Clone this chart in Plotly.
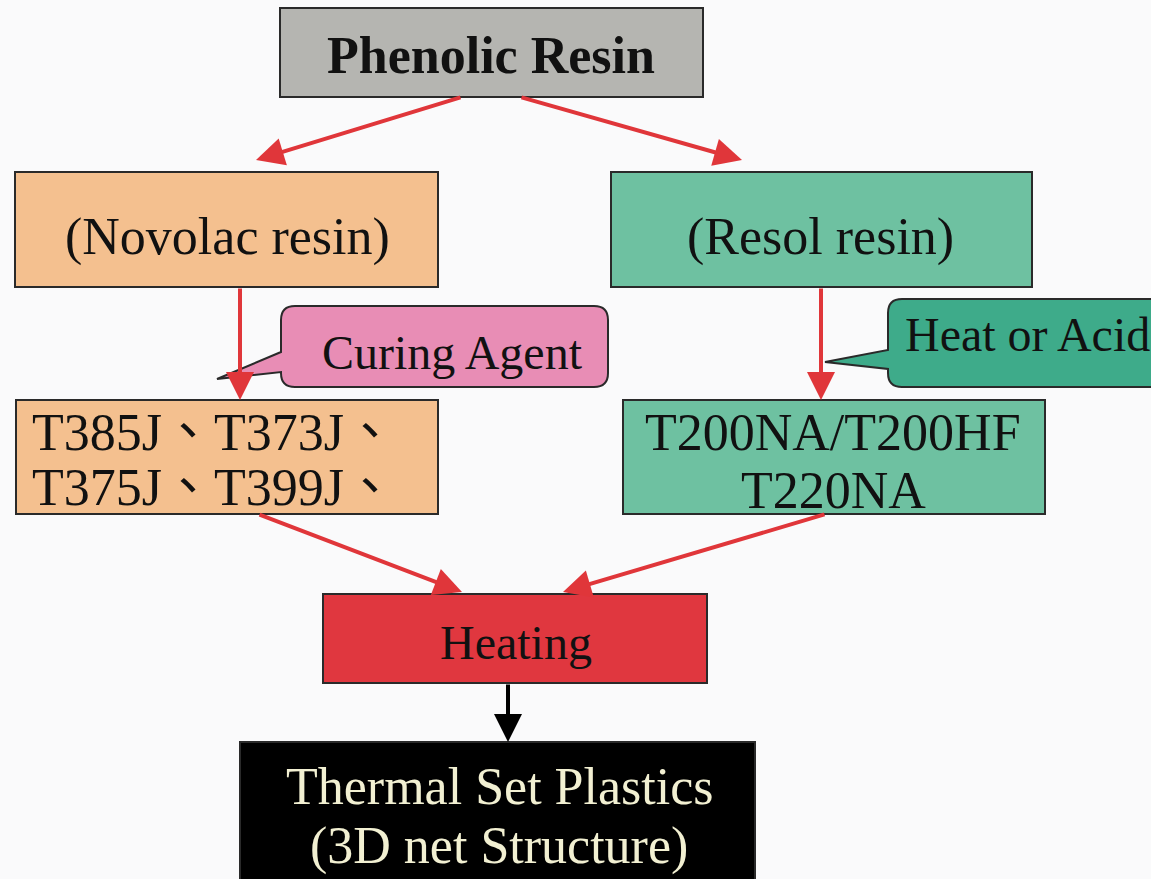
import plotly.graph_objects as go

W, H = 1151, 879

# ---- data: node labels ----
node_names = ["phenolic", "novolac", "resol", "novolac_grades", "resol_grades", "heating", "thermoset"]
node_labels = [
    ["<b>Phenolic Resin</b>"],
    ["(Novolac resin)"],
    ["(Resol resin)"],
    ["T385J、T373J、", "T375J、T399J、"],
    ["T200NA/T200HF", "T220NA"],
    ["Heating"],
    ["Thermal Set Plastics", "(3D net Structure)"],
]
callout_labels = ["Curing Agent", "Heat or Acid"]
edges = [
    ("phenolic", "novolac"),
    ("phenolic", "resol"),
    ("novolac", "novolac_grades"),
    ("resol", "resol_grades"),
    ("novolac_grades", "heating"),
    ("resol_grades", "heating"),
    ("heating", "thermoset"),
]

# ---- layout: positions / sizes / styles ----
boxes = {  # x0, x1, y0, y1 (pixel space, y downwards)
    "phenolic": (280, 703, 8, 97),
    "novolac": (15, 438, 172, 287),
    "resol": (611, 1032, 172, 287),
    "novolac_grades": (16, 438, 400, 514),
    "resol_grades": (623, 1045, 400, 514),
    "heating": (323, 707, 594, 683),
    "thermoset": (240, 755, 742, 885),
}
fills = {
    "phenolic": "#b5b5b1",
    "novolac": "#f4c08f",
    "resol": "#6ec1a1",
    "novolac_grades": "#f4c08f",
    "resol_grades": "#6ec1a1",
    "heating": "#e0373f",
    "thermoset": "#000000",
}
text_pos = {  # x, y of first line centre, anchor
    "phenolic": (491, 55, "center"),
    "novolac": (227, 237, "center"),
    "resol": (820, 237, "center"),
    "novolac_grades": (30, 432, "left"),
    "resol_grades": (833, 432, "center"),
    "heating": (516, 642, "center"),
    "thermoset": (499, 786, "center"),
}
text_size = {
    "phenolic": 52, "novolac": 52, "resol": 52, "novolac_grades": 52,
    "resol_grades": 52, "heating": 48, "thermoset": 52,
}
text_color = {k: "#111111" for k in node_names}
text_color["thermoset"] = "#f2f0d2"
line_gap = {"novolac_grades": 55, "resol_grades": 58, "thermoset": 60}

arrow_pts = {  # (tail x, tail y, head x, head y)
    ("phenolic", "novolac"): (462, 97, 256, 160),
    ("phenolic", "resol"): (520, 97, 742, 160),
    ("novolac", "novolac_grades"): (240, 287, 240, 400),
    ("resol", "resol_grades"): (821, 287, 821, 400),
    ("novolac_grades", "heating"): (258, 514, 462, 592),
    ("resol_grades", "heating"): (826, 514, 563, 592),
    ("heating", "thermoset"): (508, 683, 508, 742),
}
arrow_color = {e: "#e0363a" for e in edges}
arrow_color[("heating", "thermoset")] = "#000000"

FONT = "Liberation Serif, Times New Roman, Noto Sans CJK TC, serif"

fig = go.Figure()
shapes = []
for n in node_names:
    x0, x1, y0, y1 = boxes[n]
    shapes.append(dict(type="rect", xref="x", yref="y", x0=x0, x1=x1, y0=y0, y1=y1,
                       fillcolor=fills[n], line=dict(color="#2a2a2a", width=2), layer="below"))


def rounded_callout(x0, x1, y0, y1, r, tail):
    (ax, ay), (tx, ty), (bx, by) = tail
    return (f"M {x0+r},{y0} L {x1-r},{y0} Q {x1},{y0} {x1},{y0+r} "
            f"L {x1},{y1-r} Q {x1},{y1} {x1-r},{y1} L {x0+r},{y1} Q {x0},{y1} {x0},{y1-r} "
            f"L {bx},{by} L {tx},{ty} L {ax},{ay} "
            f"L {x0},{y0+r} Q {x0},{y0} {x0+r},{y0} Z")

callout_geo = [
    dict(box=(281, 608, 306, 387), tail=((281, 352), (217, 379), (281, 372)),
         fill="#e88db5", text=(452, 352), anchor="center", size=48),
    dict(box=(888, 1175, 299, 387), tail=((888, 350), (825, 362), (888, 369)),
         fill="#3eab8a", text=(903, 334), anchor="left", size=48),
]
for cg in callout_geo:
    x0, x1, y0, y1 = cg["box"]
    shapes.append(dict(type="path", xref="x", yref="y",
                       path=rounded_callout(x0, x1, y0, y1, 14, cg["tail"]),
                       fillcolor=cg["fill"], line=dict(color="#2a2a2a", width=2), layer="below"))

# node labels
annotations = []
for n, lines in zip(node_names, node_labels):
    x, y, anc = text_pos[n]
    for i, lab in enumerate(lines):
        annotations.append(dict(x=x, y=y + i * line_gap.get(n, 0), xref="x", yref="y",
                                text=lab, showarrow=False,
                                font=dict(family=FONT, size=text_size[n], color=text_color[n]),
                                xanchor=anc, yanchor="middle"))
for lab, cg in zip(callout_labels, callout_geo):
    x, y = cg["text"]
    annotations.append(dict(x=x, y=y, xref="x", yref="y", text=lab, showarrow=False,
                            font=dict(family=FONT, size=cg["size"], color="#111111"),
                            xanchor=cg["anchor"], yanchor="middle"))
# arrows
for e in edges:
    tx, ty, hx, hy = arrow_pts[e]
    annotations.append(dict(x=hx, y=hy, ax=tx, ay=ty, xref="x", yref="y", axref="x", ayref="y",
                            text="", showarrow=True, arrowhead=2, arrowsize=1.4,
                            arrowwidth=4, arrowcolor=arrow_color[e], standoff=0))

fig.add_trace(go.Scatter(x=[0, W], y=[0, H], mode="markers", marker=dict(opacity=0),
                         hoverinfo="skip", showlegend=False))

fig.update_layout(
    width=W, height=H, margin=dict(l=0, r=0, t=0, b=0),
    paper_bgcolor="#fafafb", plot_bgcolor="#fafafb",
    xaxis=dict(range=[0, W], visible=False, fixedrange=True),
    yaxis=dict(range=[H, 0], visible=False, fixedrange=True),
    shapes=shapes, annotations=annotations, showlegend=False,
)
fig.write_html("out.html", config={"displayModeBar": False},
               post_script="document.body.style.margin='0';document.body.style.overflow='hidden';")
